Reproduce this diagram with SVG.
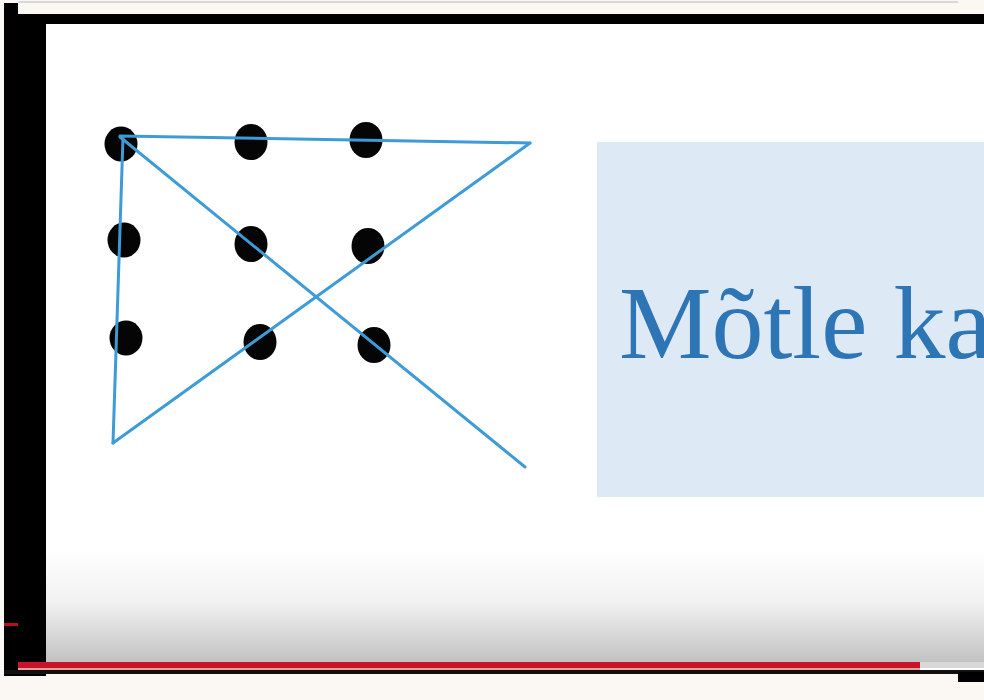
<svg xmlns="http://www.w3.org/2000/svg" width="984" height="700" viewBox="0 0 984 700">
  <defs>
    <linearGradient id="fade" x1="0" y1="0" x2="0" y2="1">
      <stop offset="0" stop-color="#ffffff"/>
      <stop offset="0.45" stop-color="#f1f1f1"/>
      <stop offset="1" stop-color="#bfbfbf"/>
    </linearGradient>
    <style>
      .dot { fill: #050505; }
      .ln { stroke: #3d9bd8; stroke-width: 3; fill: none; stroke-linecap: round; stroke-linejoin: round; }
      .title { font-family: "Liberation Serif", "DejaVu Serif", serif; font-size: 104px; fill: #2e75b6; }
    </style>
  </defs>

  <!-- outer background -->
  <rect x="0" y="0" width="984" height="700" fill="#fbf8f4"/>
  <rect x="18" y="1" width="940" height="2" fill="#d8d8d8"/>
  <!-- black frame -->
  <rect x="4" y="3" width="14" height="14" fill="#000"/>
  <rect x="4" y="14" width="980" height="10" fill="#000"/>
  <rect x="4" y="14" width="42" height="662" fill="#000"/>
  <!-- inner screen -->
  <rect x="46" y="24" width="938" height="646" fill="#ffffff"/>
  <rect x="46" y="550" width="938" height="116" fill="url(#fade)"/>
  <!-- progress bar -->
  <rect x="18" y="662" width="902" height="6" fill="#c8152a"/>
  <rect x="18" y="668" width="902" height="2" fill="#e8a09a"/>
  <rect x="920" y="662" width="64" height="6" fill="#d8d8d8"/>
  <rect x="4" y="623" width="14" height="3" fill="#b81020"/>
  <rect x="4" y="670" width="980" height="4" fill="#111"/>
  <rect x="958" y="672" width="26" height="10" fill="#000"/>

  <!-- nine dots -->
  <g id="dot-1-1"><ellipse class="dot" cx="121" cy="144" rx="16.5" ry="17.5"/></g>
  <g id="dot-1-2"><ellipse class="dot" cx="251" cy="142" rx="16.5" ry="18"/></g>
  <g id="dot-1-3"><ellipse class="dot" cx="366" cy="140" rx="16.5" ry="18"/></g>
  <g id="dot-2-1"><ellipse class="dot" cx="124" cy="240" rx="16.5" ry="17.5"/></g>
  <g id="dot-2-2"><ellipse class="dot" cx="251" cy="244" rx="16.5" ry="18"/></g>
  <g id="dot-2-3"><ellipse class="dot" cx="368" cy="246" rx="16.5" ry="18"/></g>
  <g id="dot-3-1"><ellipse class="dot" cx="126" cy="338" rx="16.5" ry="17.5"/></g>
  <g id="dot-3-2"><ellipse class="dot" cx="260" cy="342" rx="16.5" ry="18"/></g>
  <g id="dot-3-3"><ellipse class="dot" cx="374" cy="345" rx="16.5" ry="18"/></g>

  <!-- connectors -->
  <g id="connectors">
    <line class="ln" x1="120" y1="136" x2="530" y2="143"/>
    <line class="ln" x1="530" y1="143" x2="113" y2="443"/>
    <line class="ln" x1="113" y1="443" x2="123" y2="137"/>
    <line class="ln" x1="120" y1="137" x2="525" y2="467"/>
  </g>

  <!-- text box -->
  <g id="title-box">
    <rect x="597" y="142" width="387" height="355" fill="#dde9f5"/>
    <text class="title" x="619" y="358">Mõtle ka</text>
  </g>
</svg>
